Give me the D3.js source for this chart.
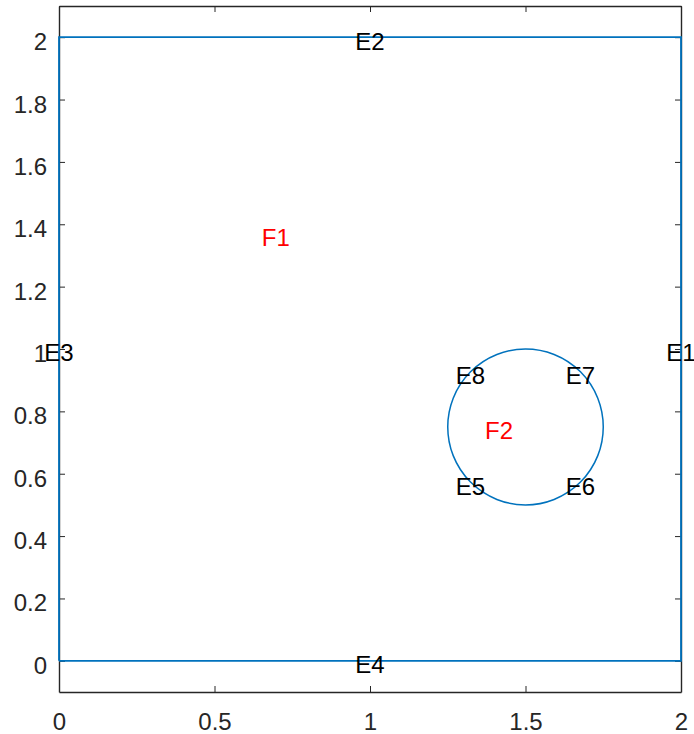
<!DOCTYPE html>
<html><head><meta charset="utf-8">
<script src="https://cdn.jsdelivr.net/npm/d3@7"></script>
<style>body{margin:0;background:#fff}svg{display:block}</style>
</head><body>
<svg id="c" width="694" height="734"></svg>
<script>
const xTicks = [0, 0.5, 1, 1.5, 2];
const yTicks = [0, 0.2, 0.4, 0.6, 0.8, 1, 1.2, 1.4, 1.6, 1.8, 2];
const rectX = [0, 2, 2, 0, 0];
const rectY = [0, 0, 2, 2, 0];
const circleCenter = [1.5, 0.75];
const circleRadius = 0.25;
const edgeLabels = ["E1", "E2", "E3", "E4", "E5", "E6", "E7", "E8"];
const edgeX = [2, 1, 0, 1, 1.3232, 1.6768, 1.6768, 1.3232];
const edgeY = [1, 2, 1, 0, 0.5732, 0.5732, 0.9268, 0.9268];
const faceLabels = ["F1", "F2"];
const faceX = [0.697, 1.415];
const faceY = [1.37, 0.75];

const svg = d3.select("#c");
const L = 59, R = 681, T = 6, B = 692;
const x = d3.scaleLinear().domain([0, 2]).range([L, R]);
const y = d3.scaleLinear().domain([-0.1, 2.1]).range([B, T]);
const axisColor = "#262626";
const font = "'Liberation Sans', Arial, sans-serif";
const fs = "24px";

// axes
const xa = svg.append("g").attr("transform", `translate(0,${B})`)
  .call(d3.axisBottom(x).tickValues(xTicks).tickSizeInner(-6).tickSizeOuter(0).tickPadding(21).tickFormat(d3.format("")));
const ya = svg.append("g").attr("transform", `translate(${L},0)`)
  .call(d3.axisLeft(y).tickValues(yTicks).tickSizeInner(-6).tickSizeOuter(0).tickPadding(12).tickFormat(d3.format("")));
const xt = svg.append("g").attr("transform", `translate(0,${T})`)
  .call(d3.axisTop(x).tickValues(xTicks).tickSizeInner(-6).tickSizeOuter(0).tickFormat(""));
const yr = svg.append("g").attr("transform", `translate(${R},0)`)
  .call(d3.axisRight(y).tickValues(yTicks).tickSizeInner(-6).tickSizeOuter(0).tickFormat(""));
[xa, ya, xt, yr].forEach(g => {
  g.selectAll("path").attr("stroke", axisColor).attr("stroke-width", 1.4);
  g.selectAll("line").attr("stroke", axisColor).attr("stroke-width", 1);
  g.selectAll("text").attr("fill", axisColor).style("font-family", font).style("font-size", fs);
});
xa.selectAll("text").attr("dy", "0.71em");
ya.selectAll("text").attr("dy", "0.52em");

const blue = "#0072BD";
// outer rectangle
svg.append("path")
  .attr("d", d3.line().x(d => x(d[0])).y(d => y(d[1]))(rectX.map((v, i) => [v, rectY[i]])))
  .attr("fill", "none").attr("stroke", blue).attr("stroke-width", 1.8);
// circle
svg.append("ellipse")
  .attr("cx", x(circleCenter[0])).attr("cy", y(circleCenter[1]))
  .attr("rx", x(circleRadius) - x(0)).attr("ry", y(0) - y(circleRadius))
  .attr("fill", "none").attr("stroke", blue).attr("stroke-width", 1.5);

// edge labels
svg.selectAll("text.edge").data(edgeLabels).enter().append("text")
  .attr("class", "edge")
  .attr("x", (d, i) => x(edgeX[i])).attr("y", (d, i) => y(edgeY[i]))
  .attr("text-anchor", "middle").attr("dy", "0.52em")
  .style("font-family", font).style("font-size", fs).attr("fill", "#000")
  .text(d => d);
// face labels
svg.selectAll("text.face").data(faceLabels).enter().append("text")
  .attr("class", "face")
  .attr("x", (d, i) => x(faceX[i])).attr("y", (d, i) => y(faceY[i]))
  .attr("text-anchor", "middle").attr("dy", "0.52em")
  .style("font-family", font).style("font-size", fs).attr("fill", "#FF0000")
  .text(d => d);
</script>
</body></html>
